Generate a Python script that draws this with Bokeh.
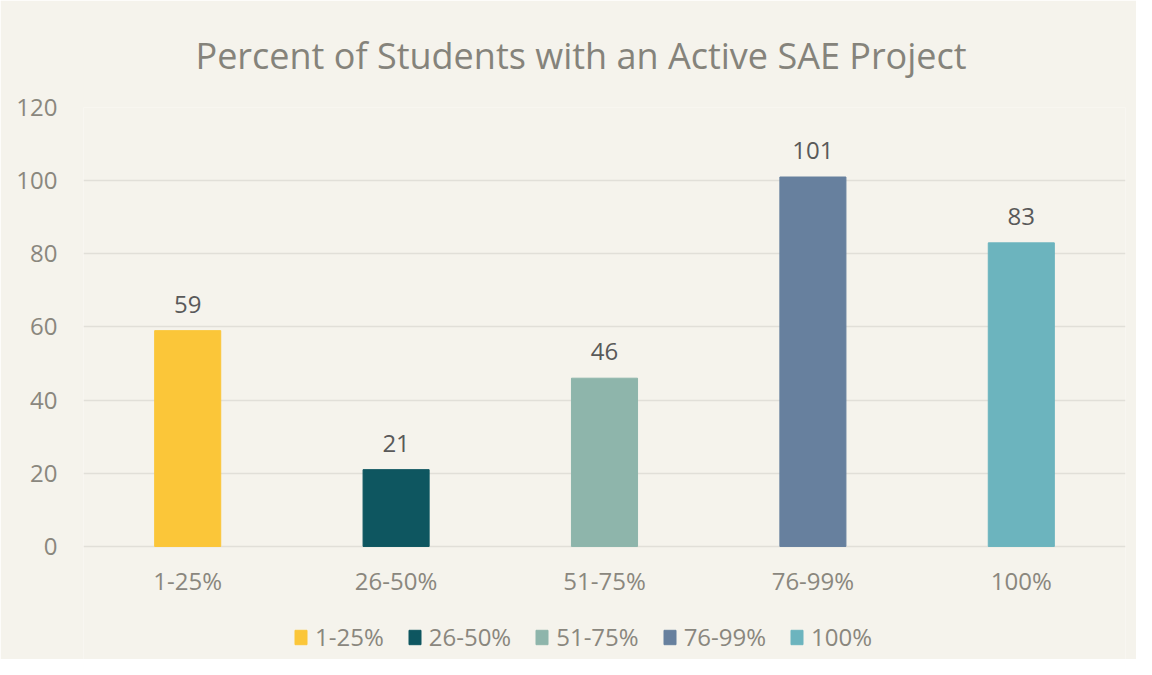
from bokeh.plotting import figure
from bokeh.models import ColumnDataSource, Legend, LegendItem, LabelSet, Range1d, FixedTicker
from bokeh.core.properties import value
from bokeh.embed import file_html
from bokeh.resources import INLINE

categories = ["1-25%", "26-50%", "51-75%", "76-99%", "100%"]
values = [59, 21, 46, 101, 83]
colors = ["#FBC639", "#0E5660", "#8EB5AB", "#67809E", "#6CB4BE"]
y_ticks = [0, 20, 40, 60, 80, 100, 120]

BG = "#F5F3EC"
GRID = "#E1DFD8"
TXT = "#8A877E"
FONT = "Open Sans"
FS = "24px"

src = ColumnDataSource(dict(cat=categories, val=values, col=colors,
                            lbl=[str(v) for v in values], zero=[0] * len(values)))

# frame extends below zero so the category labels and legend sit inside it
p = figure(x_range=categories, y_range=Range1d(-30.9, 120), width=1136, height=659,
           output_backend="svg", toolbar_location=None,
           background_fill_color=BG, border_fill_color=BG,
           min_border_left=83, min_border_right=11, min_border_top=107, min_border_bottom=0)

p.title.text = "Percent of Students with an Active SAE Project"
p.title.align = "left"
p.title.offset = 112
p.title.text_font = FONT
p.title.text_font_size = "36px"
p.title.text_font_style = "normal"
p.title.text_color = "#85837B"
p.title.standoff = 56

r = p.vbar(x="cat", top="val", width=0.317, color="col", source=src)

labels = LabelSet(x="cat", y="val", text="lbl", source=src, text_align="center",
                  text_baseline="bottom", y_offset=18, text_font_size=FS,
                  text_color="#595959", text_font=value(FONT))
p.add_layout(labels)

cat_labels = LabelSet(x="cat", y="zero", text="cat", source=src, text_align="center",
                      text_baseline="middle", y_offset=-34, text_font_size=FS,
                      text_color=TXT, text_font=value(FONT))
p.add_layout(cat_labels)

p.outline_line_color = None
p.xgrid.grid_line_color = None
p.ygrid.ticker = FixedTicker(ticks=y_ticks)
p.ygrid.grid_line_color = GRID
p.ygrid.grid_line_width = 1.5
p.yaxis.ticker = FixedTicker(ticks=y_ticks)
p.yaxis.axis_line_color = None
p.yaxis.major_tick_line_color = None
p.yaxis.minor_tick_line_color = None
p.yaxis.major_label_text_font_size = FS
p.yaxis.major_label_text_color = TXT
p.yaxis.major_label_text_font = FONT
p.yaxis.major_label_standoff = 20
p.xaxis.visible = False

items = [LegendItem(label=c, renderers=[r], index=i) for i, c in enumerate(categories)]
legend = Legend(items=items, orientation="horizontal", location=(210, 6),
                background_fill_color=BG, background_fill_alpha=0, border_line_color=None,
                label_text_font_size=FS, label_text_color=TXT, label_text_font=FONT,
                glyph_width=15, glyph_height=18, spacing=23, label_standoff=7,
                margin=0, padding=4)
p.add_layout(legend)

open("out.html", "w").write(file_html(p, INLINE))
